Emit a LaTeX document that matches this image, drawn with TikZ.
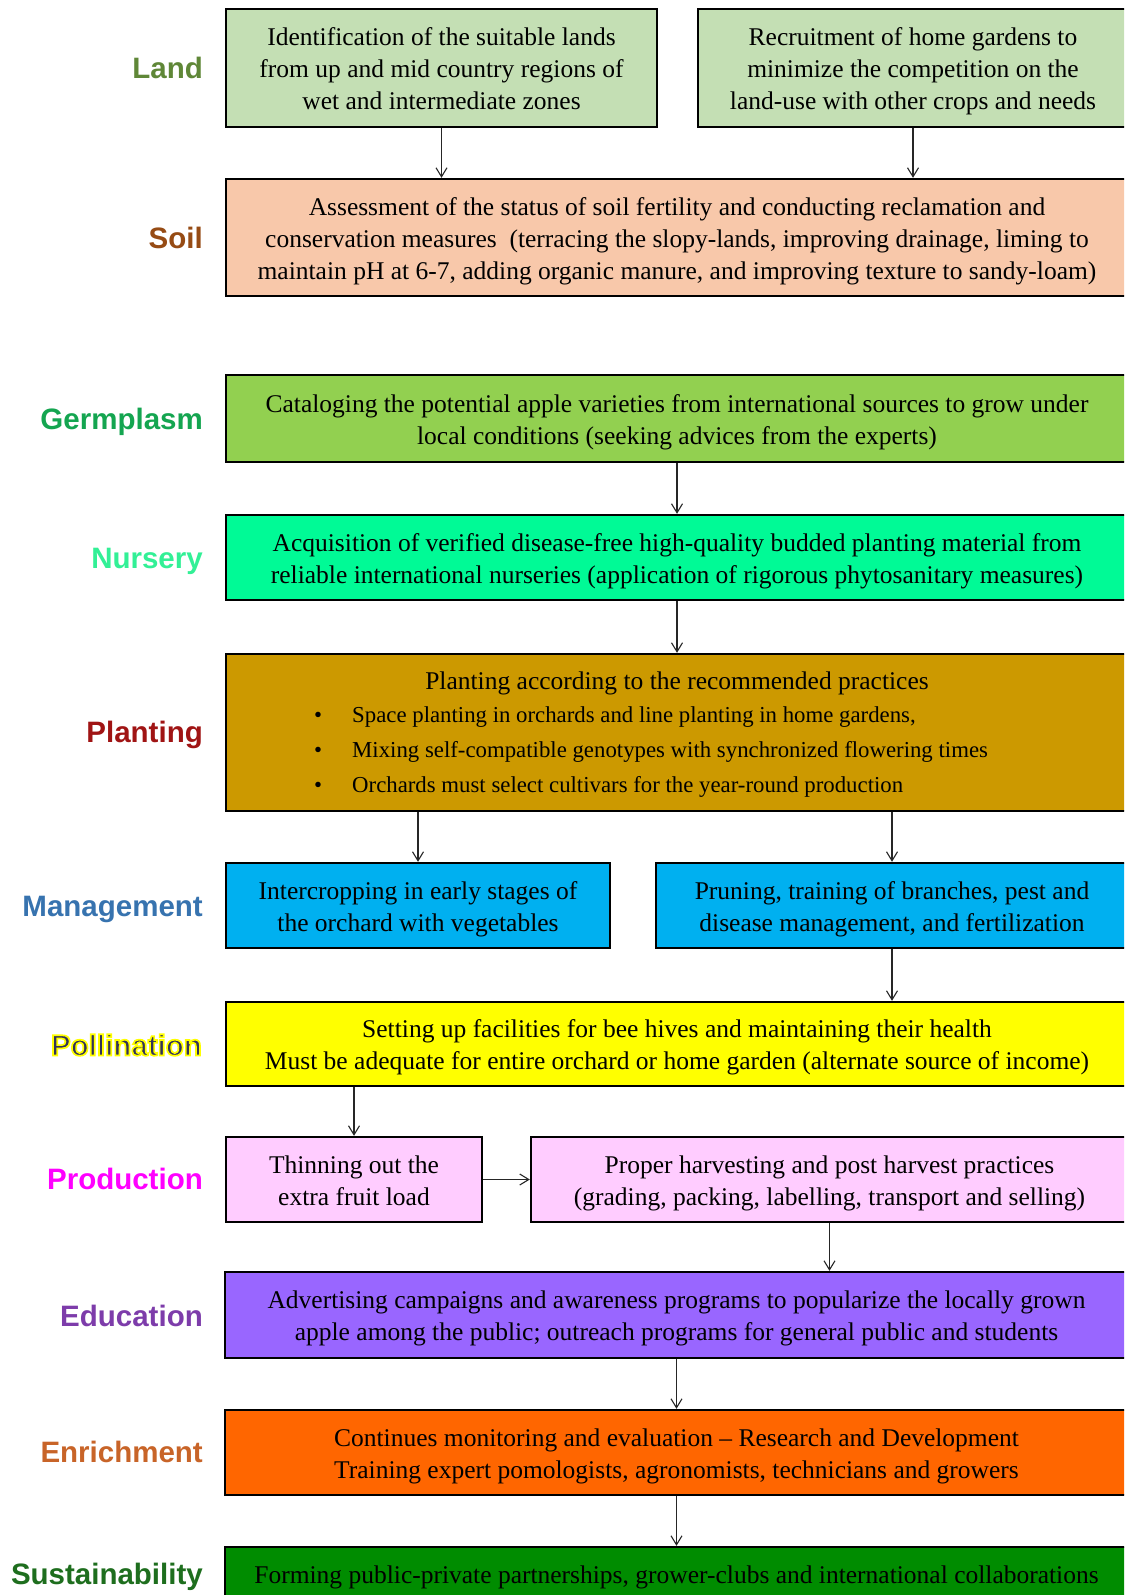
\documentclass[tikz,border=0pt]{standalone}
\usepackage{fontspec}
\setmainfont{Liberation Serif}
\newfontfamily\labfont{Liberation Sans}
\usetikzlibrary{arrows.meta}
\definecolor{fLand}{RGB}{196,223,180}
\definecolor{fSoil}{RGB}{248,200,170}
\definecolor{fGerm}{RGB}{146,208,80}
\definecolor{fNurs}{RGB}{0,250,150}
\definecolor{fPlant}{RGB}{204,153,0}
\definecolor{fMgmt}{RGB}{0,176,240}
\definecolor{fPoll}{RGB}{255,255,0}
\definecolor{fProd}{RGB}{255,204,255}
\definecolor{fEdu}{RGB}{153,102,255}
\definecolor{fEnr}{RGB}{255,102,0}
\definecolor{fSust}{RGB}{0,140,0}
\definecolor{tLand}{RGB}{95,135,55}
\definecolor{tSoil}{RGB}{150,75,20}
\definecolor{tGerm}{RGB}{20,165,80}
\definecolor{tNurs}{RGB}{50,240,150}
\definecolor{tPlant}{RGB}{160,20,20}
\definecolor{tMgmt}{RGB}{55,115,175}
\definecolor{tPoll}{RGB}{50,50,90}
\definecolor{tProd}{RGB}{255,0,255}
\definecolor{tEdu}{RGB}{125,60,170}
\definecolor{tEnr}{RGB}{200,100,40}
\definecolor{tSust}{RGB}{30,110,30}
\newcommand{\bxtext}[1]{\raisebox{-9.5pt}[0pt][0pt]{\begin{tabular}{@{}c@{}}#1\end{tabular}}}
\newcommand{\glowtext}[1]{\special{pdf:literal direct 2 Tr 1.7 w 1 1 0 RG}#1\special{pdf:literal direct 0 Tr}}
\begin{document}
\begin{tikzpicture}[x=1pt,y=-1pt,
  box/.style={draw=black, line width=2.4pt, rectangle, inner sep=0pt,
    font=\fontsize{25.5}{32}\selectfont, text=black},
  lab/.style={anchor=east, inner sep=0pt, font=\labfont\bfseries\fontsize{29.5}{30}\selectfont},
  bul/.style={anchor=base west, inner sep=0pt, font=\fontsize{22.8}{26}\selectfont, text=black},
  conn/.style={draw=black!85, line width=1.1pt,
    -{Straight Barb[length=9pt,width=11pt,line width=1.1pt]}},
]
\useasboundingbox (0,0) rectangle (1124,1595);
\fill[white] (0,0) rectangle (1124,1595);
\clip (0,0) rectangle (1124,1595);

% labels
\node[lab, text=tLand] (lLand) at (203,68) {Land};
\node[lab, text=tSoil] (lSoil) at (203,238) {Soil};
\node[lab, text=tGerm] (lGerm) at (203,422) {Germplasm};
\node[lab, text=tNurs] (lNurs) at (203,561) {Nursery};
\node[lab, text=tPlant] (lPlant) at (203,735) {Planting};
\node[lab, text=tMgmt] (lMgmt) at (203,909) {Management};
\node[lab, text=tPoll] (lPoll) at (202,1045) {\glowtext{Pollination}};
\node[lab, text=tProd] (lProd) at (203,1179) {Production};
\node[lab, text=tEdu] (lEdu) at (203,1316) {Education};
\node[lab, text=tEnr] (lEnr) at (203,1452) {Enrichment};
\node[lab, text=tSust] (lSust) at (203,1577) {Sustainability};

% boxes
\node[box, fill=fLand, minimum width=431pt, minimum height=118pt] (landL) at (441.5,68)
  {\bxtext{Identification of the suitable lands\\from up and mid country regions of\\wet and intermediate zones}};
\node[box, fill=fLand, minimum width=430pt, minimum height=118pt] (landR) at (913,68)
  {\bxtext{Recruitment of home gardens to\\minimize the competition on the\\land-use with other crops and needs}};
\node[box, fill=fSoil, minimum width=902pt, minimum height=117pt] (soil) at (677,237.5)
  {\bxtext{Assessment of the status of soil fertility and conducting reclamation and\\conservation measures\ \ (terracing the slopy-lands, improving drainage, liming to\\maintain pH at 6-7, adding organic manure, and improving texture to sandy-loam)}};
\node[box, fill=fGerm, minimum width=902pt, minimum height=87pt] (germ) at (677,418.5)
  {\bxtext{Cataloging the potential apple varieties from international sources to grow under\\local conditions (seeking advices from the experts)}};
\node[box, fill=fNurs, minimum width=902pt, minimum height=85pt] (nurs) at (677,557.5)
  {\bxtext{Acquisition of verified disease-free high-quality budded planting material from\\reliable international nurseries (application of rigorous phytosanitary measures)}};
\node[box, fill=fPlant, minimum width=902pt, minimum height=157pt] (plant) at (677,732.5) {};
\node[anchor=base, inner sep=0pt, font=\fontsize{25.5}{32}\selectfont] (ptitle) at (677,689)
  {Planting according to the recommended practices};
\node[bul] (pb1) at (314,722) {•};
\node[bul] (pt1) at (352,722) {Space planting in orchards and line planting in home gardens,};
\node[bul] (pb2) at (314,757) {•};
\node[bul] (pt2) at (352,757) {Mixing self-compatible genotypes with synchronized flowering times};
\node[bul] (pb3) at (314,792) {•};
\node[bul] (pt3) at (352,792) {Orchards must select cultivars for the year-round production};
\node[box, fill=fMgmt, minimum width=384pt, minimum height=85pt] (mgmtL) at (418,905.5)
  {\bxtext{Intercropping in early stages of\\the orchard with vegetables}};
\node[box, fill=fMgmt, minimum width=472pt, minimum height=85pt] (mgmtR) at (892,905.5)
  {\bxtext{Pruning, training of branches, pest and\\disease management, and fertilization}};
\node[box, fill=fPoll, minimum width=902pt, minimum height=84pt] (poll) at (677,1044)
  {\bxtext{Setting up facilities for bee hives and maintaining their health\\Must be adequate for entire orchard or home garden (alternate source of income)}};
\node[box, fill=fProd, minimum width=256pt, minimum height=85pt] (prodL) at (354,1179.5)
  {\bxtext{Thinning out the\\extra fruit load}};
\node[box, fill=fProd, minimum width=597pt, minimum height=85pt] (prodR) at (829.5,1179.5)
  {\bxtext{Proper harvesting and post harvest practices\\(grading, packing, labelling, transport and selling)}};
\node[box, fill=fEdu, minimum width=903pt, minimum height=86pt] (edu) at (676.5,1315)
  {\bxtext{Advertising campaigns and awareness programs to popularize the locally grown\\apple among the public; outreach programs for general public and students}};
\node[box, fill=fEnr, minimum width=903pt, minimum height=85pt] (enr) at (676.5,1452.5)
  {\bxtext{Continues monitoring and evaluation -- Research and Development\\Training expert pomologists, agronomists, technicians and growers}};
\node[box, fill=fSust, minimum width=903pt, minimum height=54pt] (sust) at (676.5,1574)
  {\bxtext{Forming public-private partnerships, grower-clubs and international collaborations}};

% connectors
\draw[conn] (landL.south) -- (landL.south |- soil.north);
\draw[conn] (landR.south) -- (landR.south |- soil.north);
\draw[conn] (germ.south) -- (nurs.north);
\draw[conn] (nurs.south) -- (plant.north);
\draw[conn] (mgmtL.north |- plant.south) -- (mgmtL.north);
\draw[conn] (mgmtR.north |- plant.south) -- (mgmtR.north);
\draw[conn] (mgmtR.south) -- (mgmtR.south |- poll.north);
\draw[conn] (prodL.north |- poll.south) -- (prodL.north);
\draw[conn] (prodL.east) -- (prodR.west);
\draw[conn] (prodR.south) -- (prodR.south |- edu.north);
\draw[conn] (edu.south) -- (enr.north);
\draw[conn] (enr.south) -- (sust.north);
\end{tikzpicture}
\end{document}
